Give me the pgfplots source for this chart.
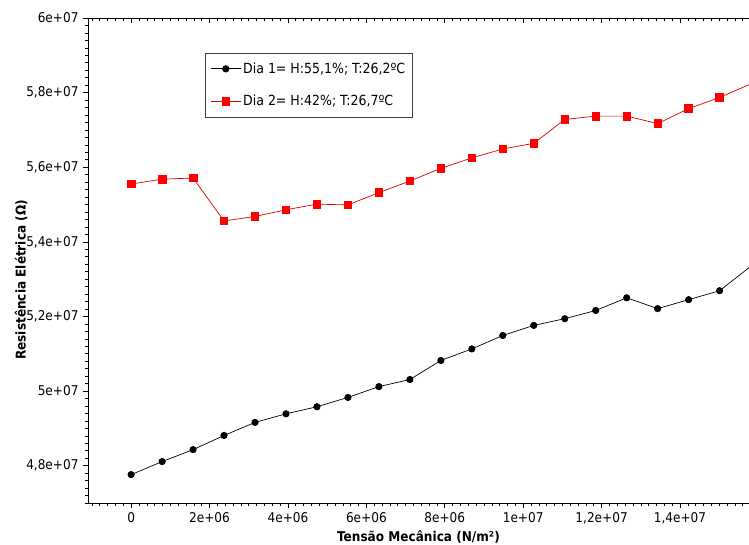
\documentclass[border=0pt]{standalone}
\usepackage{fontspec}
\setmainfont{DejaVu Sans Condensed}
\usepackage{pgfplots}
\pgfplotsset{compat=1.18}
% x in units of 1e6 N/m^2, y in units of 1e7 Ohm
\pgfplotstableread{
x y
0 4.776
0.79 4.811
1.58 4.843
2.37 4.881
3.16 4.916
3.95 4.939
4.74 4.958
5.53 4.983
6.32 5.012
7.11 5.031
7.90 5.082
8.69 5.113
9.48 5.149
10.27 5.176
11.06 5.194
11.85 5.216
12.64 5.250
13.43 5.221
14.22 5.245
15.01 5.269
15.80 5.334
}\diaum
\pgfplotstableread{
x y
0 5.555
0.79 5.568
1.58 5.571
2.37 5.456
3.16 5.468
3.95 5.486
4.74 5.501
5.53 5.499
6.32 5.532
7.11 5.563
7.90 5.597
8.69 5.625
9.48 5.649
10.27 5.664
11.06 5.728
11.85 5.737
12.64 5.737
13.43 5.717
14.22 5.757
15.01 5.787
15.80 5.823
}\diadois
\begin{document}
\begin{tikzpicture}[x=1bp,y=1bp]
\useasboundingbox (-88,-42) rectangle (661,503);
\begin{axis}[
  at={(0,0)}, anchor=south west,
  scale only axis, width=661bp, height=485bp,
  xmin=-1.1, xmax=15.76, ymin=4.7, ymax=6.0,
  axis x line*=box, axis y line*=left,
  axis line style={black, line width=0.8pt},
  tick align=outside, xtick pos=bottom, ytick pos=left,
  major tick length=5bp, minor tick length=3bp,
  tick style={black, line width=0.6pt},
  xtick={0,2,4,6,8,10,12,14},
  xticklabels={0,2e+06,4e+06,6e+06,8e+06,1e+07,{1,2e+07},{1,4e+07}},
  ytick={4.8,5.0,5.2,5.4,5.6,5.8,6.0},
  yticklabels={{4,8e+07},5e+07,{5,2e+07},{5,4e+07},{5,6e+07},{5,8e+07},6e+07},
  minor xtick={-1,-0.8,...,15.7},
  minor ytick={4.7,4.72,...,6.0},
  scaled ticks=false,
  ticklabel style={font=\fontsize{13.5}{14}\selectfont},
  xticklabel style={yshift=-1bp},
  yticklabel style={xshift=-1bp},
  xlabel={\textbf{Tensão Mecânica (N/m²)}},
  ylabel={\textbf{Resistência Elétrica (Ω)}},
  xlabel style={font=\fontsize{13.5}{14}\selectfont, at={(axis description cs:0.5,-0.07)}, anchor=center},
  ylabel style={font=\fontsize{13.5}{14}\selectfont, at={(axis description cs:-0.101,0.46)}, anchor=center},
  clip marker paths=true,
  legend style={at={(axis description cs:0.177,0.928)}, anchor=north west,
    draw=black!75, line width=0.8pt, font=\fontsize{14}{15}\selectfont,
    inner xsep=5bp, inner ysep=7.5bp, row sep=16.5bp, legend cell align=left},
  legend image code/.code={%
    \draw[mark repeat=2,mark phase=2] plot coordinates {(0bp,0bp)(15bp,0bp)(30bp,0bp)};},
  legend image post style={line width=0.8pt},
]
\addplot[black, line width=0.7pt, mark=*, mark size=3.2bp, mark options={solid}] table[x=x,y=y]{\diaum};
\addlegendentry{Dia 1= H:55,1\%; T:26,2ºC}
\addplot[red!85!black, line width=0.7pt, mark=square*, mark size=3.8bp, mark options={solid, fill=red, draw=red}] table[x=x,y=y]{\diadois};
\addlegendentry{Dia 2= H:42\%; T:26,7ºC}
\end{axis}
\begin{axis}[
  at={(0,0)}, anchor=south west,
  scale only axis, width=661bp, height=485bp,
  xmin=-1.1, xmax=15.76, ymin=4.7, ymax=6.0,
  axis x line*=top, axis y line=none,
  axis line style={draw=none},
  tick align=inside, xtick pos=right,
  major tick length=5bp, minor tick length=3bp,
  tick style={black, line width=0.6pt},
  xtick={0,2,4,6,8,10,12,14},
  minor xtick={-1,-0.8,...,15.7},
  xticklabels={}, scaled ticks=false,
]
\end{axis}
\end{tikzpicture}
\end{document}
